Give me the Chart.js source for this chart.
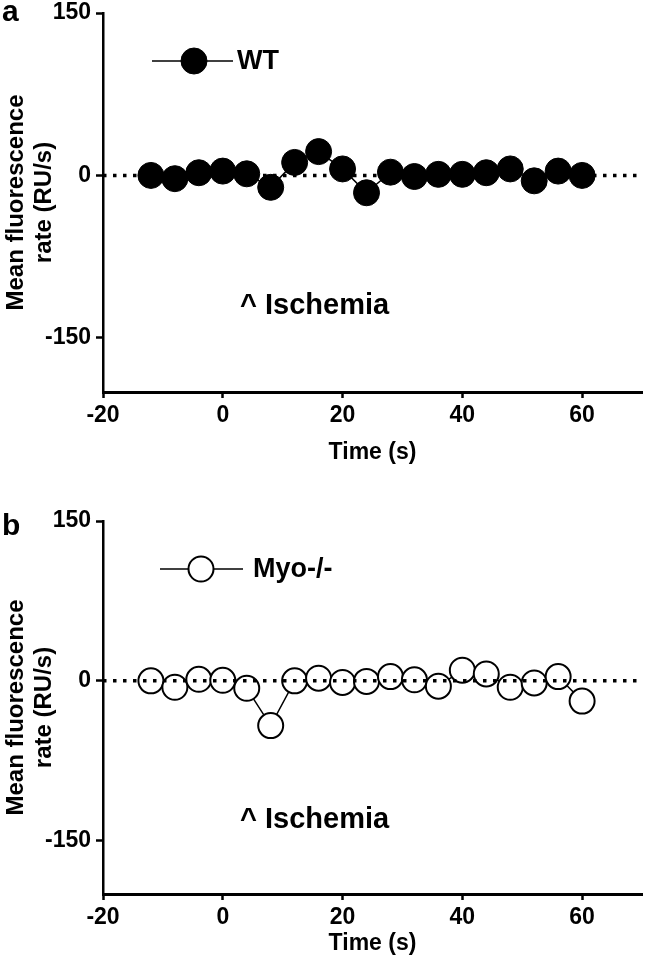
<!DOCTYPE html>
<html><head><meta charset="utf-8">
<script src="https://cdn.jsdelivr.net/npm/chart.js@4"></script>
<style>html,body{margin:0;padding:0;background:#fff;} canvas{display:block;}</style>
</head><body>
<canvas id="ca" width="645" height="482"></canvas>
<canvas id="cb" width="645" height="482"></canvas>
<script>
// ---- data ----
const timePoints = [-12,-8,-4,0,4,8,12,16,20,24,28,32,36,40,44,48,52,56,60];
const wtRate  = [0,-3,2.5,4,1.5,-11,12,22,6,-16,3,-1,1,1,2.5,6,-5,4,0];
const myoRate = [0,-6,1.5,0.5,-7,-42,0,2.5,-1.5,-0.5,4,1,-5,10,6.5,-6,-2,4,-19];
const xTicks = [-20,0,20,40,60];
const yTicks = [-150,0,150];
const zeroLineX = [-20,70];
const seriesNames = ['WT','Myo-/-'];
const panelLetters = ['a','b'];
const annotationText = '^ Ischemia';
const xTitle = 'Time (s)';
const yTitle = ['Mean fluorescence','rate (RU/s)'];

const FONT = '"Liberation Sans", Arial, Helvetica, sans-serif';
Chart.defaults.font.family = FONT;
Chart.defaults.color = '#000';

const zeroPad = () => ({left: 0, top: 0, right: 0, bottom: 0});

const annotPlugin = {
  id: 'annot',
  afterDraw(chart, args, o) {
    const ctx = chart.ctx, a = chart.chartArea;
    const ds = chart.data.datasets[1];
    ctx.save();
    ctx.fillStyle = '#000';
    ctx.textBaseline = 'alphabetic';
    ctx.textAlign = 'left';
    ctx.font = 'bold 30px ' + FONT;
    ctx.fillText(o.letter, 2, o.letterY);
    const ly = a.top + o.legY;
    ctx.strokeStyle = '#000';
    ctx.lineWidth = ds.borderWidth;
    ctx.beginPath(); ctx.moveTo(o.legX1, ly); ctx.lineTo(o.legX2, ly); ctx.stroke();
    ctx.beginPath(); ctx.arc(o.legCx, ly, ds.pointRadius, 0, Math.PI * 2);
    ctx.fillStyle = ds.pointBackgroundColor; ctx.fill();
    ctx.lineWidth = ds.pointBorderWidth; ctx.stroke();
    ctx.fillStyle = '#000';
    ctx.textBaseline = 'middle';
    ctx.font = 'bold 27px ' + FONT;
    ctx.fillText(ds.label, o.legTx, ly + 1);
    ctx.font = 'bold 29px ' + FONT;
    ctx.fillText(annotationText, o.iscX, a.top + o.iscY);
    ctx.restore();
  }
};

function makePanel(id, cfg) {
  const pts = timePoints.map((t, i) => ({x: t, y: cfg.values[i]}));
  return new Chart(document.getElementById(id), {
    type: 'line',
    data: {datasets: [
      {label: 'zero', data: zeroLineX.map(x => ({x: x, y: 0})), borderColor: '#000', borderWidth: 3.5,
       borderDash: [3.5, 6.5], borderCapStyle: 'butt', pointRadius: 0, order: 0, fill: false},
      {label: cfg.label, data: pts, borderColor: '#000', borderWidth: 1.5, pointRadius: cfg.r,
       pointBackgroundColor: cfg.fill, pointBorderColor: '#000', pointBorderWidth: cfg.bw,
       order: 1, tension: 0, fill: false, clip: false}
    ]},
    options: {
      responsive: false, animation: false, devicePixelRatio: 1,
      layout: {autoPadding: false, padding: {left: 0, right: 3, top: cfg.top, bottom: 0}},
      plugins: {legend: {display: false}, tooltip: {enabled: false}, annot: cfg.annot},
      scales: {
        x: {
          type: 'linear', min: -20, max: 70,
          afterBuildTicks: s => { s.ticks = xTicks.map(v => ({value: v})); },
          afterFit: s => { s.height = cfg.xh; s.paddingRight = 0; s.paddingLeft = 0; s.getPadding = zeroPad; },
          grid: {drawOnChartArea: false, drawTicks: true, tickLength: 6, tickWidth: 2.5, tickColor: '#000'},
          border: {display: true, color: '#000', width: 3},
          ticks: {color: '#000', font: {size: 23, weight: 'bold'}, padding: 4, maxRotation: 0, autoSkip: false},
          title: {display: true, text: xTitle, color: '#000', font: {size: 23, weight: 'bold'},
                  padding: {top: 0, bottom: cfg.tpb}}
        },
        y: {
          type: 'linear', min: -200, max: 150,
          afterBuildTicks: s => { s.ticks = yTicks.map(v => ({value: v})); },
          afterFit: s => { s.width = 103; s.paddingTop = 0; s.paddingBottom = 0; s.getPadding = zeroPad; },
          grid: {drawOnChartArea: false, drawTicks: true, tickLength: 7, tickWidth: 2.5, tickColor: '#000'},
          border: {display: true, color: '#000', width: 2.5},
          ticks: {color: '#000', font: {size: 23, weight: 'bold'}, padding: 5, autoSkip: false},
          title: {display: true, text: yTitle, color: '#000', font: {size: 24, weight: 'bold', lineHeight: 1.17},
                  padding: {top: 2, bottom: 0}}
        }
      }
    },
    plugins: [annotPlugin]
  });
}

makePanel('ca', {
  values: wtRate, label: seriesNames[0], r: 13, fill: '#000', bw: 1,
  top: 13, xh: 90, tpb: 16,
  annot: {letter: panelLetters[0], letterY: 21, legY: 48, legX1: 152, legX2: 233, legCx: 194, legTx: 237, iscX: 240, iscY: 293}
});
makePanel('cb', {
  values: myoRate, label: seriesNames[1], r: 12.5, fill: '#fff', bw: 2,
  top: 39, xh: 70, tpb: 7,
  annot: {letter: panelLetters[1], letterY: 53, legY: 48, legX1: 160, legX2: 243, legCx: 201, legTx: 253, iscX: 240, iscY: 299}
});
</script>
</body></html>
